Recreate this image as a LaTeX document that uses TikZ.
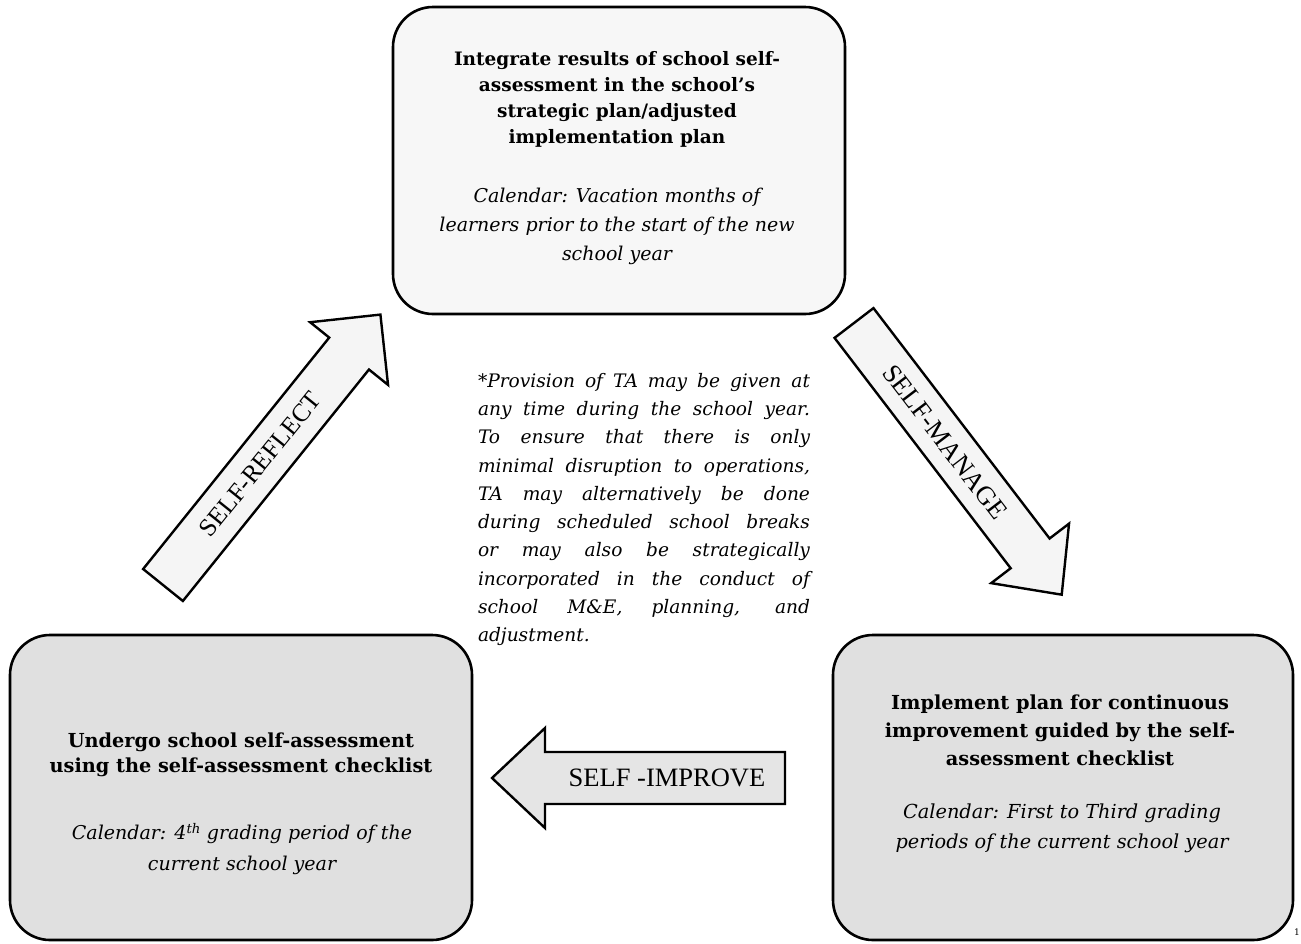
\documentclass[tikz,border=0pt]{standalone}
\usepackage{fontspec}
\setmainfont{DejaVu Serif}
\newfontfamily\arrowfont{Liberation Serif}
\begin{document}
\begin{tikzpicture}[x=1pt,y=-1pt,
  box/.style={draw=black, line width=2.6pt, rounded corners=40pt, inner sep=0pt},
  blockarrow/.style={draw=black, line width=2.4pt, line join=miter, fill=black!4},
  boldtxt/.style={align=center, inner sep=0pt, font=\bfseries\fontsize{18.5}{26}\selectfont},
  caltxt/.style={align=center, inner sep=0pt, font=\itshape\fontsize{19}{29}\selectfont},
  arrowlabel/.style={font=\arrowfont\fontsize{26.5}{26.5}\selectfont, inner sep=0pt}
]
\useasboundingbox (0,0) rectangle (1301,943);

% boxes
\node[box, fill=black!3, minimum width=452pt, minimum height=307pt] (top) at (619,160.5) {};
\node[box, fill=black!12, minimum width=462pt, minimum height=305pt] (left) at (241,787.5) {};
\node[box, fill=black!12, minimum width=460pt, minimum height=305pt] (right) at (1063,787.5) {};

% top box text
\node[boldtxt] (topbold) at (617,99) {Integrate results of school self-\\assessment in the school's\\strategic plan/adjusted\\implementation plan};
\node[caltxt] (topcal) at (617,226) {Calendar: Vacation months of\\learners prior to the start of the new\\school year};

% left box text
\node[boldtxt, font=\bfseries\fontsize{19.3}{25}\selectfont] (leftbold) at (241,754.5) {Undergo school self-assessment\\using the self-assessment checklist};
\node[caltxt, font=\itshape\fontsize{19}{31}\selectfont] (leftcal) at (242,849) {Calendar: 4\textsuperscript{th} grading period of the\\current school year};

% right box text
\node[boldtxt, font=\bfseries\fontsize{19.3}{28}\selectfont] (rightbold) at (1060,730) {Implement plan for continuous\\improvement guided by the self-\\assessment checklist};
\node[caltxt, font=\itshape\fontsize{19.3}{30}\selectfont] (rightcal) at (1062,828) {Calendar: First to Third grading\\periods of the current school year};

% note
\node[text width=332pt, align=justify, inner sep=0pt, font=\itshape\fontsize{18.6}{28.3}\selectfont] (note) at (644,509.5) {*Provision of TA may be given at\linebreak any time during the school year.\linebreak To ensure that there is only\linebreak minimal disruption to operations,\linebreak TA may alternatively be done\linebreak during scheduled school breaks\linebreak or may also be strategically\linebreak incorporated in the conduct of\linebreak school M\&E, planning, and\linebreak adjustment.};

% SELF-REFLECT arrow
\begin{scope}[shift={(163,585)}, rotate=51.2]
  \draw[blockarrow] (0,-25.5) -- (297,-25.5) -- (297,-50) -- (347,0) -- (297,50) -- (297,25.5) -- (0,25.5) -- cycle;
  \node[arrowlabel, font=\arrowfont\fontsize{25.5}{25.5}\selectfont, rotate=51.2] (reflect) at (155,0) {SELF-REFLECT};
\end{scope}

% SELF-MANAGE arrow
\begin{scope}[shift={(854,323)}, rotate=-52.6]
  \draw[blockarrow] (0,-24.5) -- (290,-24.5) -- (290,-49) -- (342,0) -- (290,49) -- (290,24.5) -- (0,24.5) -- cycle;
  \node[arrowlabel, rotate=-52.6] (manage) at (150,0) {SELF-MANAGE};
\end{scope}

% SELF-IMPROVE arrow
\begin{scope}[shift={(785,778)}, rotate=180]
  \draw[blockarrow, fill=black!10] (0,-26) -- (240,-26) -- (240,-50) -- (293,0) -- (240,50) -- (240,26) -- (0,26) -- cycle;
\end{scope}
\node[arrowlabel] (improve) at (667,778) {SELF -IMPROVE};

\node[inner sep=0pt, font=\fontsize{9}{9}\selectfont] (pagenum) at (1297,932) {1};
\end{tikzpicture}
\end{document}
